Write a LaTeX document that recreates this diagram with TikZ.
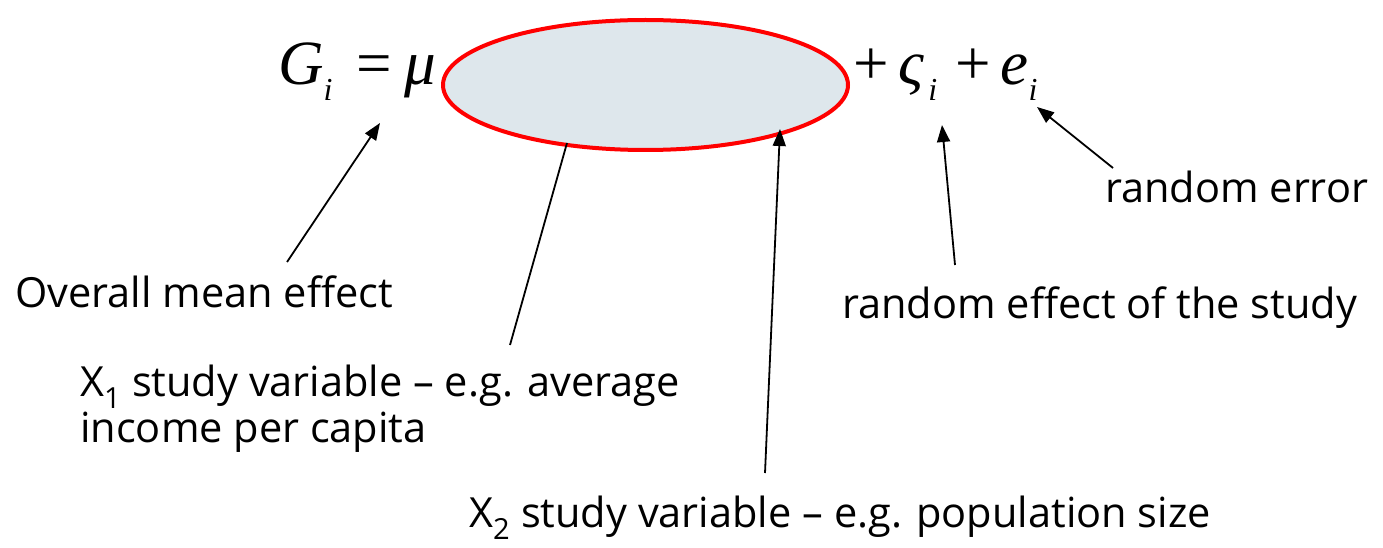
\documentclass[tikz,border=0pt]{standalone}
\usepackage{fontspec}
\setmainfont{Open Sans}
\newfontfamily\tms{Liberation Serif}
\usetikzlibrary{arrows.meta,shapes.geometric}
\definecolor{ellfill}{RGB}{222,231,236}
\definecolor{ellred}{RGB}{255,0,0}
\begin{document}
\begin{tikzpicture}[x=1pt,y=-1pt,
  lbl/.style={font=\fontsize{41.5}{46}\selectfont, inner sep=0pt, anchor=base west, align=left},
  eq/.style={font=\tms\fontsize{63}{63}\selectfont, inner sep=0pt, anchor=base west},
  arr/.style={-{Triangle[length=17pt,width=13pt]}, line width=1.8pt},
  ln/.style={line width=1.8pt}]
\useasboundingbox (0,0) rectangle (1383,548);
% ellipse
\node[ellipse, draw=ellred, fill=ellfill, line width=4pt, minimum width=405pt, minimum height=130pt, inner sep=0pt] (ell) at (645.5,85) {};
% equation
\node[eq] (lhs) at (278,85) {\itshape G\raisebox{-16pt}{\fontsize{32}{32}\selectfont i}\hspace{24pt}\upshape =\hspace{12pt}\itshape μ};
\node[eq] (rhs) at (853,85) {+\hspace{10pt}\itshape ς\hspace{4pt}\raisebox{-16pt}{\fontsize{32}{32}\selectfont i}\hspace{18pt}\upshape +\hspace{10pt}\itshape e\raisebox{-16pt}{\fontsize{32}{32}\selectfont i}};
% labels
\node[lbl] (mean) at (15,307) {Overall mean effect};
\node[lbl] (rstudy) at (842,318) {random effect of the study};
\node[lbl] (rerr) at (1105,202) {random error};
\node[lbl] (x1) at (80,442) {X\textsubscript{1} study variable – e.g. average\\income per capita};
\node[lbl] (x2) at (469,527) {X\textsubscript{2} study variable – e.g. population size};
% connector end points
\coordinate (muTip) at (380,123);
\coordinate (meanEnd) at (287,262);
\coordinate (x1a) at (567,143);
\coordinate (x1b) at (510,345);
\coordinate (x2Tip) at (780,129);
\coordinate (x2End) at (765,473);
\coordinate (zTip) at (942,125);
\coordinate (zEnd) at (955,265);
\coordinate (eTip) at (1037,107);
\coordinate (eEnd) at (1113,168);
\draw[arr] (meanEnd) -- (muTip);
\draw[ln] (x1b) -- (x1a);
\draw[arr] (x2End) -- (x2Tip);
\draw[arr] (zEnd) -- (zTip);
\draw[arr] (eEnd) -- (eTip);
\end{tikzpicture}
\end{document}
